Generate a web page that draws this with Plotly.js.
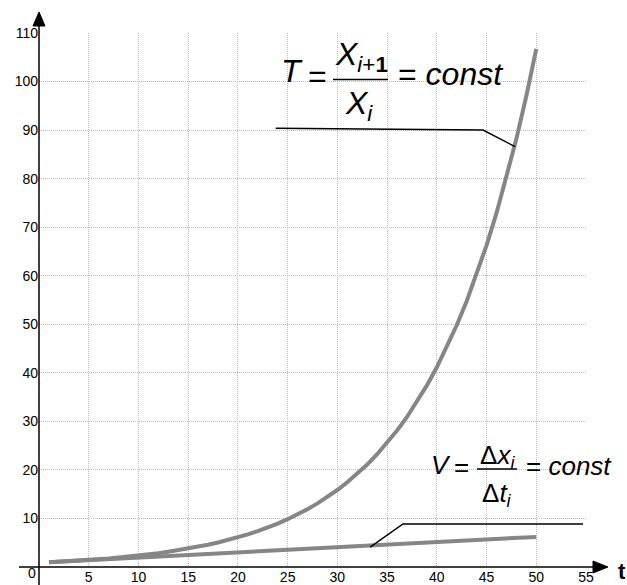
<!DOCTYPE html>
<html>
<head>
<meta charset="utf-8">
<script src="https://cdn.plot.ly/plotly-3.0.1.min.js"></script>
<style>
  html, body { margin: 0; padding: 0; background: #fff; }
  #chart { width: 627px; height: 585px; }
</style>
</head>
<body>
<div id="chart"></div>
<script>
// Data

const tGeom = [1, 2, 3, 4, 5, 6, 7, 8, 9, 10, 11, 12, 13, 14, 15, 16, 17, 18, 19, 20,
  21, 22, 23, 24, 25, 26, 27, 28, 29, 30, 31, 32, 33, 34, 35, 36, 37, 38, 39, 40,
  41, 42, 43, 44, 45, 46, 47, 48, 49, 50];
const xGeom = [1.00, 1.10, 1.21, 1.33, 1.46, 1.61, 1.77, 1.95, 2.14, 2.36,
  2.59, 2.85, 3.14, 3.45, 3.80, 4.18, 4.59, 5.05, 5.56, 6.12,
  6.73, 7.40, 8.14, 8.95, 9.85, 10.83, 11.92, 13.11, 14.42, 15.86,
  17.45, 19.19, 21.11, 23.23, 25.55, 28.10, 30.91, 34.00, 37.40, 41.14,
  45.26, 49.79, 54.76, 60.24, 66.26, 72.89, 80.18, 88.20, 97.02, 106.72];

const tLinear = [1, 5, 10, 15, 20, 25, 30, 35, 40, 45, 50];
const xLinear = [1.0, 1.42, 1.96, 2.49, 3.02, 3.55, 4.08, 4.61, 5.14, 5.67, 6.2];

// Callout lines from the formulas to the curves
const calloutTx = [23.8, 44.65, 47.86];
const calloutTy = [90.4, 90.0, 86.6];
const calloutVx = [33.3, 36.6, 54.7];
const calloutVy = [4.1, 8.86, 8.86];

// Ticks
const xTickVals = [5, 10, 15, 20, 25, 30, 35, 40, 45, 50, 55];
const yTickVals = [10, 20, 30, 40, 50, 60, 70, 80, 90, 100, 110];

// Global

const W = 627;
const H = 585;
const M = { l: 39, r: 41, t: 33, b: 18 };
const CURVE_COLOR = "#868686";
const FONT = "Liberation Sans, Arial, sans-serif";

// pixel -> paper helpers
const px = (x) => (x - M.l) / (W - M.l - M.r);
const py = (y) => (H - M.b - y) / (H - M.t - M.b);

// Traces

const traces = [
  {
    x: tGeom,
    y: xGeom,
    mode: "lines",
    line: { color: CURVE_COLOR, width: 4 },
    hoverinfo: "skip",
  },
  {
    x: tLinear,
    y: xLinear,
    mode: "lines",
    line: { color: CURVE_COLOR, width: 4 },
    hoverinfo: "skip",
  },
  {
    x: calloutTx,
    y: calloutTy,
    mode: "lines",
    line: { color: "#000", width: 1.5 },
    hoverinfo: "skip",
  },
  {
    x: calloutVx,
    y: calloutVy,
    mode: "lines",
    line: { color: "#000", width: 1.5 },
    hoverinfo: "skip",
  },
];

// Annotations (formula pieces)

const txt = function (text, x, y, size, anchor) {
  return {
    text: text,
    xref: "paper",
    yref: "paper",
    x: px(x),
    y: py(y),
    xanchor: anchor || "center",
    yanchor: "middle",
    showarrow: false,
    font: { family: FONT, size: size, color: "#000" },
  };
};

const annotations = [
  // T = X(i+1)/X(i) = const
  txt("<i>T</i>", 292, 71, 32),
  txt("=", 317, 76, 32),
  txt("<i>X</i><sub><i>i</i>+<b>1</b></sub>", 361, 56, 32),
  txt("<i>X<sub>i</sub></i>", 359, 105, 32),
  txt("= <i>const</i>", 396, 74, 32, "left"),

  // V = dx/dt = const
  txt("<i>V</i>", 441, 465, 26),
  txt("=", 461, 467, 26),
  txt("Δ<i>x<sub>i</sub></i>", 497, 456, 26),
  txt("Δ<i>t<sub>i</sub></i>", 497, 494, 26),
  txt("= <i>const</i>", 524, 466, 26, "left"),

  // axis labels
  txt("<b>t</b>", 622, 571, 22),
  txt("0", 32, 573, 14),
];

// Shapes: axes with arrows, fraction bars

const shapes = [
  {
    type: "line", xref: "paper", yref: "paper",
    x0: px(39), x1: px(39), y0: py(585), y1: py(25),
    line: { color: "#000", width: 1.5 },
  },
  {
    type: "line", xref: "paper", yref: "paper",
    x0: px(19), x1: px(594), y0: py(567), y1: py(567),
    line: { color: "#000", width: 1.5 },
  },
  {
    type: "path", xref: "paper", yref: "paper",
    path: `M ${px(39)} ${py(12)} L ${px(33)} ${py(26)} L ${px(45)} ${py(26)} Z`,
    fillcolor: "#000",
    line: { color: "#000", width: 1 },
  },
  {
    type: "path", xref: "paper", yref: "paper",
    path: `M ${px(608)} ${py(567)} L ${px(593)} ${py(561)} L ${px(593)} ${py(573)} Z`,
    fillcolor: "#000",
    line: { color: "#000", width: 1 },
  },
  {
    type: "line", xref: "paper", yref: "paper",
    x0: px(333), x1: px(388), y0: py(79.5), y1: py(79.5),
    line: { color: "#000", width: 1.5 },
  },
  {
    type: "line", xref: "paper", yref: "paper",
    x0: px(477), x1: px(517), y0: py(469), y1: py(469),
    line: { color: "#000", width: 1.5 },
  },
];

// Layout

const layout = {
  width: W,
  height: H,
  margin: M,
  showlegend: false,
  paper_bgcolor: "#fff",
  plot_bgcolor: "#fff",
  dragmode: false,
  font: { family: FONT, size: 14, color: "#000" },
  xaxis: {
    range: [0, 55],
    tickvals: xTickVals,
    ticks: "",
    showline: false,
    zeroline: false,
    showgrid: true,
    gridcolor: "#bdbdbd",
    griddash: "1px,1px",
    gridwidth: 1,
    tickfont: { family: FONT, size: 14, color: "#000" },
    fixedrange: true,
  },
  yaxis: {
    range: [0, 110],
    tickvals: yTickVals,
    ticks: "",
    showline: false,
    zeroline: false,
    showgrid: true,
    gridcolor: "#bdbdbd",
    griddash: "1px,1px",
    gridwidth: 1,
    tickfont: { family: FONT, size: 14, color: "#000" },
    fixedrange: true,
  },
  annotations: annotations,
  shapes: shapes,
};

// Init

Plotly.newPlot("chart", traces, layout, {
  displayModeBar: false,
  staticPlot: true,
});
</script>
</body>
</html>
